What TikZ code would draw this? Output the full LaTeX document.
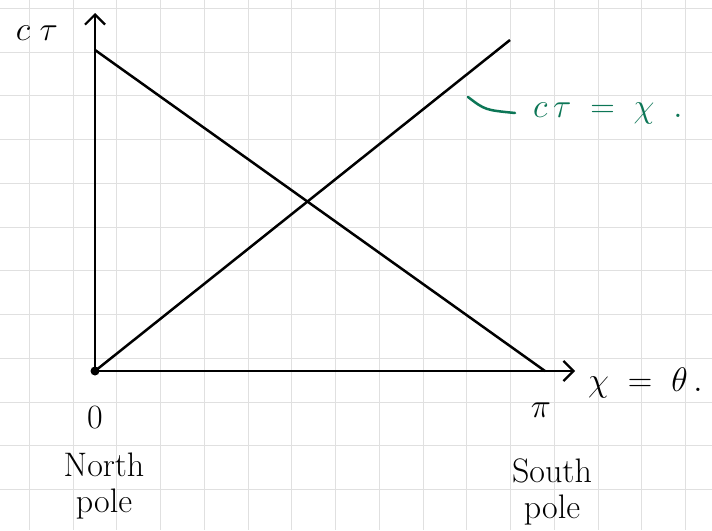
\RequirePackage{fix-cm}
\documentclass[tikz,border=0pt]{standalone}
\usepackage{xcolor}
\definecolor{inkgreen}{RGB}{12,118,86}
\definecolor{gridgray}{RGB}{224,224,224}
\usetikzlibrary{arrows.meta,positioning}

\begin{document}
\begin{tikzpicture}[x=1pt,y=-1pt,
  ink/.style={line width=2.5pt,black},
  paper/.style={gridgray,line width=1pt},
  hand/.style={font=\fontsize{34}{36}\selectfont,inner sep=0pt,align=center},
  axisarrow/.style={-{Straight Barb[length=10pt,width=20pt,line width=2.2pt]}}]
  \useasboundingbox (0,0) rectangle (712,530);
  \fill[white] (0,0) rectangle (712,530);
  % grid paper
  \foreach \gx in {0,...,15} \draw[paper] ({29.3+43.75*\gx},0) -- ({29.3+43.75*\gx},530);
  \foreach \gy in {0,...,11} \draw[paper] (0,{8.3+43.75*\gy}) -- (712,{8.3+43.75*\gy});
  % axes
  \coordinate (origin) at (95,371);
  \coordinate (ctop) at (95,13);
  \coordinate (xend) at (575,371);
  \coordinate (start) at (95,50);
  \coordinate (southpt) at (545,371);
  \coordinate (light) at (510,40);
  \draw[ink,axisarrow] (origin) -- (ctop);
  \draw[ink,axisarrow] (origin) -- (xend);
  \draw[ink] (start) -- (southpt);
  \draw[ink] (origin) -- (light);
  \fill (origin) circle (4.5);
  % labels
  \node[hand] (ctau) at (37,33) {$c\;\tau$};
  \node[hand] (zero) at (95,418) {$0$};
  \node[hand] (pi) at (541,410) {$\pi$};
  \node[hand,anchor=west] (chi) at (588,383) {$\chi\;=\;\theta\,.$};
  \node[hand] (north) at (104,486) {North\\pole};
  \node[hand] (south) at (552,492) {South\\pole};
  % light ray note
  \node[hand,text=inkgreen,anchor=west] (note) at (533,113) {$c\,\tau\;=\;\chi\;\;.$};
  \coordinate (ptr) at (468,97);
  \coordinate (ptrend) at (515,113);
  \draw[inkgreen,line width=2.5pt,line cap=round] (ptr) .. controls (485,110) .. (ptrend);
\end{tikzpicture}
\end{document}
